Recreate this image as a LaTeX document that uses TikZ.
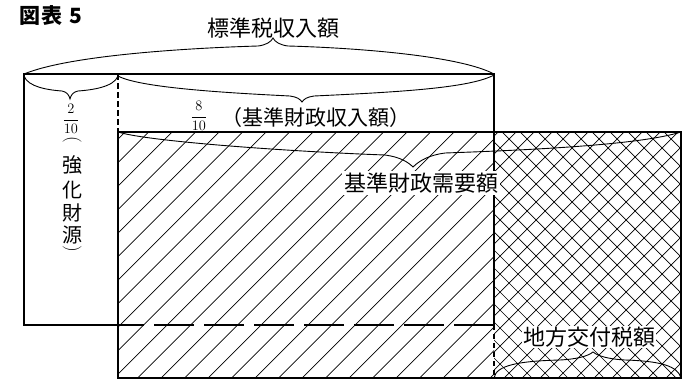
\documentclass[tikz,border=0pt]{standalone}
\usepackage{fontspec}
\usepackage{amsmath}
\newfontfamily\jp{Noto Sans CJK JP}
\begin{document}
\begin{tikzpicture}[x=1pt,y=-1pt,
  frame/.style={line width=1.6pt, line cap=rect},
  hatchline/.style={line width=0.7pt},
  bracepath/.style={line width=0.9pt},
  lab/.style={font=\jp\fontsize{22}{24}\selectfont, inner sep=1pt},
  labw/.style={lab, fill=white, inner sep=2pt},
  colch/.style={font=\jp\fontsize{20}{22}\selectfont, inner sep=0pt},
  vparen/.style={font=\fontsize{19}{21}\selectfont, inner sep=0pt, rotate=-90},
  frac/.style={font=\fontsize{14}{16}\selectfont, inner sep=0pt}]
\useasboundingbox (0,0) rectangle (684,388);
% single hatching
\begin{scope}
  \clip (118,132) rectangle (494,378);
  \foreach \c in {233.5,257,...,890} \draw[hatchline] (\c-100,100) -- (\c-400,400);
\end{scope}
% cross hatching
\begin{scope}
  \clip (494,132) rectangle (681,378);
  \foreach \c in {612,630,...,1080} \draw[hatchline] (\c-100,100) -- (\c-400,400);
  \foreach \d in {100,118,...,560} \draw[hatchline] (\d+100,100) -- (\d+400,400);
\end{scope}
% frames
\coordinate (oTL) at (24,74);
\coordinate (oTR) at (494,74);
\coordinate (oBL) at (24,325);
\coordinate (oBM) at (118,325);
\coordinate (oBR) at (494,325);
\coordinate (hTL) at (118,132);
\coordinate (hTR) at (681,132);
\coordinate (hBL) at (118,378);
\coordinate (hBR) at (681,378);
\coordinate (hBM) at (494,378);
\coordinate (hTM) at (494,132);
\coordinate (dTop) at (118,74);
\draw[frame] (oBM) -- (oBL) -- (oTL) -- (oTR) -- (hTM);
\draw[frame] (hTL) rectangle (hBR);
\draw[frame] (hTM) -- (oBR);
\draw[frame, line cap=butt, dash pattern=on 40pt off 10pt] (oBR) -- (oBM);
\draw[frame, line cap=butt, dash pattern=on 5pt off 4pt] (oBR) -- (hBM);
\draw[line width=1.2pt, dash pattern=on 6pt off 3pt] (dTop) -- (hTL);
% labels
\node[frac] (f1) at (71,119) {$\dfrac{2}{10}$};
\node[frac] (f2) at (199,116) {$\dfrac{8}{10}$};
\node[lab] (t1) at (273,28) {標準税収入額};
\node[lab, font=\jp\fontsize{21}{23}\selectfont] (t2) at (316,118) {（基準財政収入額）};
\node[labw] (t3) at (421,183) {基準財政需要額};
\node[labw, inner sep=1pt] (t4) at (589,337) {地方交付税額};
\node[font=\jp\bfseries\fontsize{21}{23}\selectfont, inner sep=0pt] (title) at (51,15) {図\hspace{1pt}表\hspace{7pt}5};
\node[vparen] (p1) at (72,140) {(};
\node[colch] (c1) at (72,165) {強};
\node[colch] (c2) at (72,190) {化};
\node[colch] (c3) at (72,213) {財};
\node[colch] (c4) at (72,235) {源};
\node[vparen] (p2) at (72,249) {)};
% braces
\draw[bracepath] (oTL) .. controls (70,55) and (190,48) .. (258,46) .. controls (266,45) and (271,42) .. (273,38)
  .. controls (275,42) and (280,45) .. (288,46) .. controls (360,48) and (460,56) .. (oTR);
\draw[bracepath] (24,76) .. controls (28,87) and (48,90) .. (62,91) .. controls (67,92) and (69,95) .. (70,99)
  .. controls (71,95) and (73,92) .. (78,91) .. controls (92,90) and (114,87) .. (118,76);
\draw[bracepath] (118,76) .. controls (140,88) and (230,93) .. (290,96) .. controls (297,97) and (300,99) .. (302,102)
  .. controls (304,99) and (307,97) .. (314,96) .. controls (400,92) and (470,88) .. (494,75);
\draw[bracepath] (hTL) .. controls (150,142) and (300,152) .. (385,155) .. controls (400,157) and (408,162) .. (413,167)
  .. controls (420,160) and (430,155) .. (445,153) .. controls (530,150) and (640,145) .. (hTR);
\draw[bracepath] (hBM) .. controls (496,365) and (520,361) .. (560,360) .. controls (578,359) and (588,356) .. (593,352)
  .. controls (598,356) and (608,359) .. (625,360) .. controls (660,361) and (678,366) .. (hBR);
\end{tikzpicture}
\end{document}
